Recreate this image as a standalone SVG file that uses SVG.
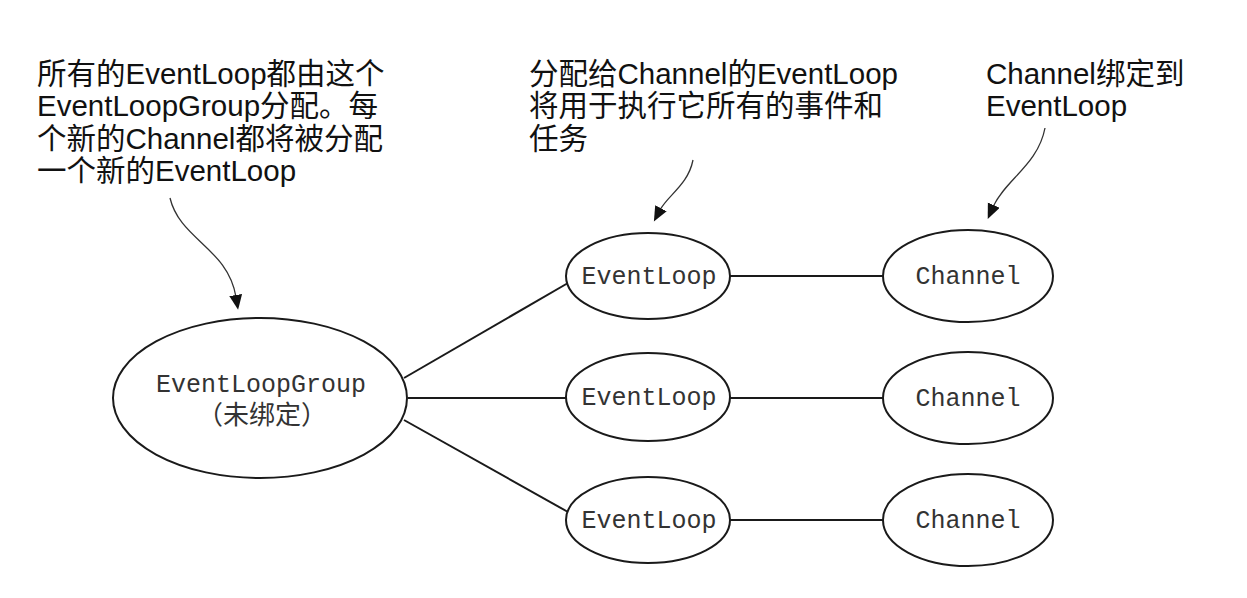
<svg xmlns="http://www.w3.org/2000/svg" width="1247" height="598" viewBox="0 0 1247 598">
<style>
.node ellipse{fill:#fff;stroke:#1a1a1a;stroke-width:2}
.mono{font-family:"Liberation Mono","DejaVu Sans Mono",monospace;font-size:25px;fill:#333;text-anchor:middle}
.cjk{font-family:"Liberation Sans","Noto Sans CJK SC",sans-serif;font-size:26px;fill:#333;text-anchor:middle}
.note{font-family:"Liberation Sans","Noto Sans CJK SC",sans-serif;font-size:29.5px;fill:#111}
.edge{stroke:#1a1a1a;stroke-width:2;fill:none}
.arrow{stroke:#333;stroke-width:1.3;fill:none}
</style>
<defs>
<marker id="ah" markerUnits="userSpaceOnUse" markerWidth="16" markerHeight="14" refX="2" refY="6.5" orient="auto">
<path d="M0,0 L15,6.5 L0,13 z" fill="#111"/>
</marker>
</defs>
<rect width="1247" height="598" fill="#fff"/>
<g id="connectors">
<line class="edge" x1="404" y1="378" x2="568" y2="283"/>
<line class="edge" x1="408" y1="398" x2="566" y2="398"/>
<line class="edge" x1="404" y1="420" x2="568" y2="512"/>
<line class="edge" x1="730" y1="276" x2="883" y2="276"/>
<line class="edge" x1="730" y1="398" x2="883" y2="398"/>
<line class="edge" x1="730" y1="520" x2="883" y2="520"/>
<path class="arrow" d="M170,198 C180,240 228,248 236,297" marker-end="url(#ah)"/>
<path class="arrow" d="M693,160 C688,185 668,195 660,210" marker-end="url(#ah)"/>
<path class="arrow" d="M1045,128 C1038,165 1005,180 993,207" marker-end="url(#ah)"/>
</g>
<g id="group" class="node">
<ellipse cx="260" cy="398" rx="147" ry="80"/>
<text class="mono" x="261" y="392">EventLoopGroup</text>
<text class="cjk" x="262" y="424">（未绑定）</text>
</g>
<g id="loop1" class="node"><ellipse cx="648" cy="276" rx="82" ry="43"/><text class="mono" x="649" y="284">EventLoop</text></g>
<g id="loop2" class="node"><ellipse cx="648" cy="397" rx="82" ry="44"/><text class="mono" x="649" y="405">EventLoop</text></g>
<g id="loop3" class="node"><ellipse cx="648" cy="520" rx="82" ry="43"/><text class="mono" x="649" y="528">EventLoop</text></g>
<g id="ch1" class="node"><ellipse cx="968" cy="276" rx="85" ry="46"/><text class="mono" x="968" y="284">Channel</text></g>
<g id="ch2" class="node"><ellipse cx="968" cy="398" rx="85" ry="46"/><text class="mono" x="968" y="406">Channel</text></g>
<g id="ch3" class="node"><ellipse cx="968" cy="520" rx="85" ry="46"/><text class="mono" x="968" y="528">Channel</text></g>
<g id="note1" class="note">
<text x="37" y="84">所有的EventLoop都由这个</text>
<text x="37" y="116">EventLoopGroup分配。每</text>
<text x="37" y="149">个新的Channel都将被分配</text>
<text x="37" y="181">一个新的EventLoop</text>
</g>
<g id="note2" class="note">
<text x="529" y="84">分配给Channel的EventLoop</text>
<text x="529" y="116">将用于执行它所有的事件和</text>
<text x="529" y="149">任务</text>
</g>
<g id="note3" class="note">
<text x="986" y="84">Channel绑定到</text>
<text x="986" y="116">EventLoop</text>
</g>
</svg>
